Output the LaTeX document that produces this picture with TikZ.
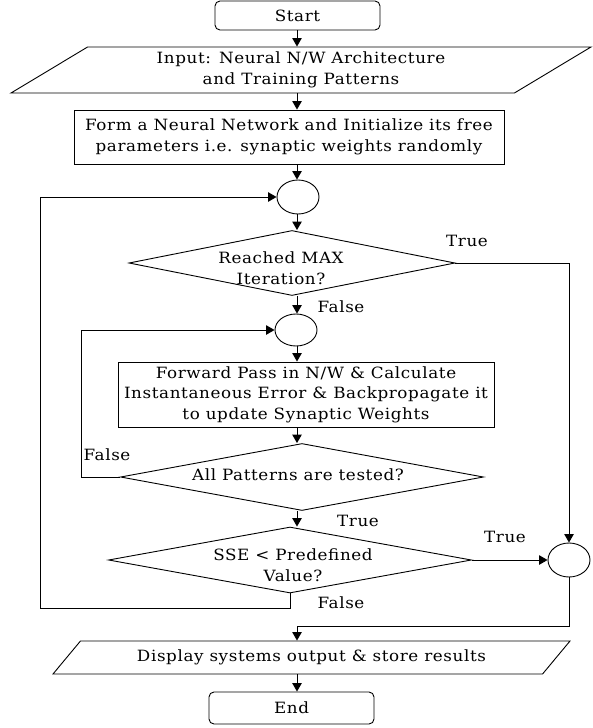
\documentclass[tikz,border=0pt]{standalone}
\usepackage{fontspec}
\setmainfont{DejaVu Serif}[LetterSpace=4,FakeStretch=1.08]
\usetikzlibrary{shapes.geometric,arrows.meta}
\begin{document}
\begin{tikzpicture}[x=1pt,y=-1pt, line width=0.9pt,
  font=\fontsize{15.5}{20.5}\selectfont,
  arr/.style={-{Triangle[length=8.5pt,width=9.5pt]}},
  term/.style={draw, rounded corners=5pt, minimum width=165pt, inner sep=0pt},
  proc/.style={draw, rectangle, inner sep=0pt, align=center},
  io/.style={draw, trapezium, trapezium stretches body, inner sep=0pt, align=center},
  junc/.style={draw, ellipse, minimum width=42pt, minimum height=34pt, inner sep=0pt},
  dec/.style={draw, diamond, inner sep=0pt},
  dtext/.style={inner sep=0pt, align=center},
  lbl/.style={inner sep=0pt}
]
\useasboundingbox (0,0) rectangle (592,728);
\coordinate (col) at (297,0);

\node[term, minimum height=29pt] (start) at (297.5,15.5) {Start};
\node[io, minimum width=580pt, minimum height=46pt, trapezium left angle=25, trapezium right angle=155] (input) at (301,70)
  {Input: Neural N/W Architecture\\and Training Patterns};
\node[proc, minimum width=430pt, minimum height=54pt] (form) at (289,137)
  {Form a Neural Network and Initialize its free\\parameters i.e. synaptic weights randomly};
\node[junc] (c1) at (298,197) {};
\node[dec, minimum width=326pt, minimum height=65pt] (d1) at (292,263) {};
\node[dtext] (d1t) at (281,268) {Reached MAX\\Iteration?};
\node[junc, minimum height=32pt] (c2) at (296,330) {};
\node[proc, minimum width=376pt, minimum height=65pt] (fwd) at (306,394.5)
  {Forward Pass in N/W \& Calculate\\Instantaneous Error \& Backpropagate it\\to update Synaptic Weights};
\node[dec, minimum width=363pt, minimum height=67pt] (d2) at (302,477) {};
\node[dtext] (d2t) at (298,475) {All Patterns are tested?};
\node[dec, minimum width=363pt, minimum height=66pt] (d3) at (290,560) {};
\node[dtext] (d3t) at (293,565) {SSE < Predefined\\Value?};
\node[junc] (c3) at (569,560) {};
\node[io, minimum width=517pt, minimum height=33pt, trapezium left angle=29, trapezium right angle=151] (disp) at (311.5,657.5)
  {Display systems output \& store results};
\node[term, minimum height=32pt] (end) at (291.5,708) {End};

\node[lbl] (t1) at (467,241) {True};
\node[lbl] (f1) at (341,307) {False};
\node[lbl] (f2) at (107,455) {False};
\node[lbl] (t2) at (358,521) {True};
\node[lbl] (t3) at (505,537) {True};
\node[lbl] (f3) at (341,603) {False};

\coordinate (lb) at (40,608);
\coordinate (jn) at (297,626);

\draw[arr] (col |- start.south) -- (col |- input.north);
\draw[arr] (col |- input.south) -- (col |- form.north);
\draw[arr] (col |- form.south) -- (col |- c1.north);
\draw[arr] (col |- c1.south) -- (col |- d1.north);
\draw[arr] (d1.east) -| (c3.north);
\draw[arr] (col |- d1.south) -- (col |- c2.north);
\draw[arr] (col |- c2.south) -- (col |- fwd.north);
\draw[arr] (col |- fwd.south) -- (col |- d2.north);
\draw[arr] (d2.west) -- ++(-39,0) |- (c2.west);
\draw[arr] (col |- d2.south) -- (col |- d3.north);
\draw[arr] (d3.east) -- (c3.west);
\draw[arr] (d3.south) |- (lb) |- (c1.west);
\draw[arr] (c3.south) |- (jn) -- (col |- disp.north);
\draw[arr] (col |- disp.south) -- (col |- end.north);
\end{tikzpicture}
\end{document}
